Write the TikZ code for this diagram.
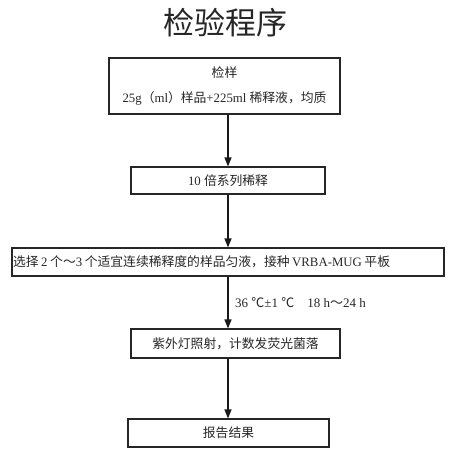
\documentclass[tikz,border=0pt]{standalone}
\usepackage{fontspec}
\setmainfont{Liberation Serif}
\newfontfamily\cjk{Noto Sans CJK SC}
\usetikzlibrary{arrows.meta}
\tikzset{
  boxnode/.style={draw=black!85, line width=1.1pt, rectangle, inner sep=0pt, text=black!85,
    font=\fontsize{12.8}{25}\selectfont},
  arr/.style={line width=1.3pt, draw=black!90, -{Triangle[length=9pt,width=7pt]}},
}
\begin{document}
\begin{tikzpicture}[x=1pt,y=-1pt]
\useasboundingbox (0,0) rectangle (460,454);
\node[text=black!85, font=\fontsize{31}{31}\selectfont\cjk] (title) at (225,23) {检验程序};
\node[boxnode, minimum width=231pt, minimum height=56pt, align=center] (b1) at (224.5,86)
  {{\cjk 检样}\\25g{\cjk（}ml{\cjk）样品}+225ml {\cjk 稀释液，均质}};
\node[boxnode, minimum width=194pt, minimum height=27pt] (b2) at (228,180.5)
  {10 {\cjk 倍系列稀释}};
\node[boxnode, minimum width=432pt, minimum height=28pt, text width=430pt, inner xsep=1pt, align=left,
  font=\fontsize{12.8}{14}\selectfont] (b3) at (228,262)
  {{\cjk 选择}\hspace{2.6pt}2\hspace{2.6pt}{\cjk 个～}3\hspace{2.6pt}{\cjk 个适宜连续稀释度的样品匀液，接种}\hspace{2.6pt}VRBA-MUG\hspace{2.6pt}{\cjk 平板}};
\node[boxnode, minimum width=209pt, minimum height=29pt] (b4) at (235.5,343.5)
  {{\cjk 紫外灯照射，计数发荧光菌落}};
\node[boxnode, minimum width=201pt, minimum height=28pt] (b5) at (228.5,433)
  {{\cjk 报告结果}};
\draw[arr] (b1.south -| b2.center) -- (b2.north);
\draw[arr] (b2.south) -- (b3.north -| b2.center);
\draw[arr] (b3.south -| b2.center) -- (b4.north -| b2.center);
\draw[arr] (b4.south -| b2.center) -- (b5.north -| b2.center);
\node[anchor=west, inner sep=0pt, text=black!85, font=\fontsize{13}{13}\selectfont] (lbl) at (235,303)
  {36 {\cjk ℃}±1 {\cjk ℃}\quad 18 h{\cjk ～}24 h};
\end{tikzpicture}
\end{document}
